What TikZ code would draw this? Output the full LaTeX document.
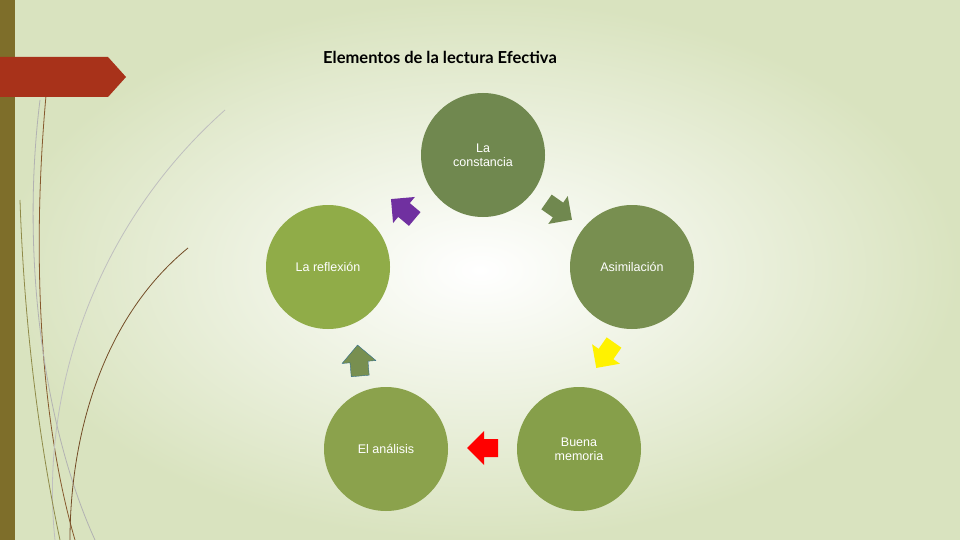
\documentclass[tikz,border=0pt]{standalone}
\usepackage{fontspec}
\setmainfont{Liberation Sans}
\newfontfamily\titlefont{Lato}
\definecolor{bgedge}{HTML}{D9E3BF}
\definecolor{tabred}{RGB}{168,50,26}
\definecolor{cA}{RGB}{112,136,79}
\definecolor{cB}{RGB}{120,143,80}
\definecolor{cC}{RGB}{134,159,74}
\definecolor{cD}{RGB}{139,162,76}
\definecolor{cE}{RGB}{144,172,72}
\definecolor{purp}{RGB}{112,48,160}
\definecolor{bord}{RGB}{50,110,140}
\tikzset{
  circ/.style={circle,minimum size=124pt,inner sep=0pt,text=white,font=\fontsize{12.5}{14}\selectfont,align=center},
  deco/.style={line width=0.8pt}
}
\newcommand{\blkarrow}[4]{%
  \filldraw[fill=#3,draw=#4,shift={#1},rotate=#2]
    (-14,-9) -- (0,-9) -- (0,-17) -- (17,0) -- (0,17) -- (0,9) -- (-14,9) -- cycle;}
\begin{document}
\begin{tikzpicture}[x=1pt,y=-1pt]
\useasboundingbox (0,0) rectangle (960,540);
\shade[inner color=white,outer color=bgedge] (0,0) rectangle (960,540);
\fill[black!35!brown!50!olive!80!gray] (0,0) rectangle (15,540);
% decorative lines
\draw[deco,draw=brown!70!black] (48,75) .. controls (30,250) and (40,420) .. (75,540);
\draw[deco,draw=gray!60] (40,100) .. controls (20,260) and (45,430) .. (95,540);
\draw[deco,draw=brown!60!black] (188,248) .. controls (100,320) and (70,440) .. (70,540);
\draw[deco,draw=gray!50] (225,110) .. controls (90,230) and (40,400) .. (55,540);
\draw[deco,draw=olive!50!gray] (20,200) .. controls (25,350) and (45,470) .. (60,540);
% red tab
\fill[tabred] (0,57) -- (108,57) -- (126,77) -- (108,97) -- (0,97) -- cycle;
\node (title) at (440,57) {\titlefont\bfseries\fontsize{16.5}{19}\selectfont Elementos de la lectura Efectiva};
\node[circ,fill=cA] (c1) at (483,155) {La\\constancia};
\node[circ,fill=cB] (c2) at (632,267) {Asimilación};
\node[circ,fill=cC] (c3) at (579,449) {Buena\\memoria};
\node[circ,fill=cD] (c4) at (386,449) {El análisis};
\node[circ,fill=cE] (c5) at (328,267) {La reflexión};
\blkarrow{(404,210)}{140}{purp}{none}
\blkarrow{(558,210)}{-35}{cA}{none}
\blkarrow{(606,354)}{-125}{yellow}{none}
\blkarrow{(484,448)}{180}{red}{none}
\blkarrow{(359,362)}{95}{cB}{bord}
\end{tikzpicture}
\end{document}
